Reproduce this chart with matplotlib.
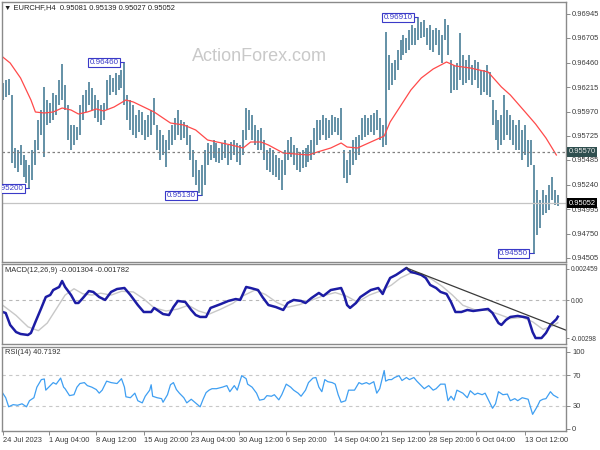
import numpy as np
import matplotlib
matplotlib.use("Agg")
import matplotlib.pyplot as plt
from matplotlib.transforms import blended_transform_factory

plt.rcParams['font.family'] = ['Liberation Sans', 'DejaVu Sans']

# ---------------- data ----------------
header_main = "\u25bc EURCHF,H4  0.95081 0.95139 0.95027 0.95052"
header_macd = "MACD(12,26,9) -0.001304 -0.001782"
header_rsi = "RSI(14) 40.7192"

bar_step = 2  # every sample = 2 H4 bars

high = [0.96255, 0.96285, 0.96295, 0.96135, 0.95605, 0.95585, 0.95635, 0.95535, 0.95485, 0.95435,
        0.95585, 0.95685, 0.95885, 0.95985, 0.96215, 0.96085, 0.96055, 0.96155, 0.96135, 0.96285,
        0.96445, 0.96235, 0.96035, 0.95835, 0.95835, 0.95815, 0.96035, 0.96135, 0.96185, 0.96265,
        0.96205, 0.96135, 0.96085, 0.96035, 0.96055, 0.96285, 0.96335, 0.96305, 0.96355, 0.96335,
        0.96385, 0.96460, 0.96135, 0.96085, 0.96035, 0.95935, 0.95985, 0.95965, 0.95885, 0.95935,
        0.95985, 0.96105, 0.95835, 0.95785, 0.95735, 0.95685, 0.95785, 0.95835, 0.95905, 0.95985,
        0.95885, 0.95865, 0.95835, 0.95735, 0.95585, 0.95485, 0.95385, 0.95435, 0.95585, 0.95655,
        0.95635, 0.95685, 0.95655, 0.95605, 0.95655, 0.95685, 0.95635, 0.95665, 0.95685, 0.95655,
        0.95635, 0.95785, 0.96005, 0.95985, 0.95935, 0.95835, 0.95785, 0.95805, 0.95685, 0.95585,
        0.95605, 0.95585, 0.95535, 0.95505, 0.95485, 0.95585, 0.95685, 0.95715, 0.95635, 0.95605,
        0.95565, 0.95585, 0.95605, 0.95635, 0.95685, 0.95805, 0.95885, 0.95885, 0.95935, 0.95905,
        0.95885, 0.95935, 0.95915, 0.95905, 0.96005, 0.95585, 0.95485, 0.95585, 0.95685, 0.95715,
        0.95735, 0.95905, 0.95935, 0.95905, 0.95935, 0.95955, 0.95985, 0.95905, 0.95835, 0.96765,
        0.96535, 0.96455, 0.96485, 0.96585, 0.96685, 0.96735, 0.96705, 0.96785, 0.96835, 0.96805,
        0.96910, 0.96865, 0.96885, 0.96805, 0.96835, 0.96785, 0.96805, 0.96785, 0.96735, 0.96900,
        0.96835, 0.96485, 0.96435, 0.96455, 0.96755, 0.96535, 0.96485, 0.96535, 0.96435, 0.96485,
        0.96465, 0.96385, 0.96385, 0.96435, 0.96365, 0.96085, 0.95985, 0.95885, 0.95935, 0.96135,
        0.95985, 0.95935, 0.95885, 0.95835, 0.95885, 0.95785, 0.95835, 0.95685, 0.95685, 0.95435,
        0.95185, 0.95085, 0.95185, 0.95135, 0.95235, 0.95315, 0.95185, 0.95139]

low = [0.96085, 0.96115, 0.96135, 0.95455, 0.95405, 0.95365, 0.95435, 0.95315, 0.95255, 0.95200,
       0.95285, 0.95435, 0.95585, 0.95735, 0.95515, 0.95835, 0.95855, 0.95885, 0.95935, 0.96035,
       0.96085, 0.95985, 0.95685, 0.95585, 0.95635, 0.95685, 0.95735, 0.95885, 0.95965, 0.96035,
       0.95985, 0.95905, 0.95865, 0.95835, 0.95885, 0.95985, 0.96135, 0.96165, 0.96135, 0.96185,
       0.96205, 0.96035, 0.95885, 0.95785, 0.95735, 0.95705, 0.95765, 0.95735, 0.95685, 0.95715,
       0.95735, 0.95835, 0.95585, 0.95485, 0.95535, 0.95415, 0.95585, 0.95635, 0.95685, 0.95735,
       0.95685, 0.95705, 0.95635, 0.95485, 0.95315, 0.95235, 0.95155, 0.95130, 0.95235, 0.95435,
       0.95485, 0.95505, 0.95465, 0.95455, 0.95485, 0.95505, 0.95435, 0.95485, 0.95535, 0.95465,
       0.95435, 0.95535, 0.95685, 0.95785, 0.95685, 0.95635, 0.95585, 0.95585, 0.95485, 0.95385,
       0.95365, 0.95335, 0.95315, 0.95285, 0.95185, 0.95335, 0.95485, 0.95515, 0.95435, 0.95385,
       0.95365, 0.95405, 0.95415, 0.95465, 0.95485, 0.95535, 0.95635, 0.95685, 0.95735, 0.95685,
       0.95705, 0.95735, 0.95765, 0.95735, 0.95685, 0.95305, 0.95255, 0.95335, 0.95435, 0.95485,
       0.95535, 0.95685, 0.95715, 0.95735, 0.95765, 0.95735, 0.95785, 0.95685, 0.95615, 0.95635,
       0.96185, 0.96235, 0.96285, 0.96385, 0.96485, 0.96535, 0.96555, 0.96585, 0.96635, 0.96635,
       0.96685, 0.96705, 0.96715, 0.96635, 0.96585, 0.96565, 0.96635, 0.96535, 0.96455, 0.96685,
       0.96535, 0.96155, 0.96185, 0.96185, 0.96285, 0.96235, 0.96255, 0.96285, 0.96235, 0.96285,
       0.96205, 0.96135, 0.96165, 0.96135, 0.96115, 0.95835, 0.95685, 0.95585, 0.95635, 0.95685,
       0.95735, 0.95685, 0.95635, 0.95585, 0.95585, 0.95485, 0.95535, 0.95415, 0.95435, 0.94550,
       0.94735, 0.94805, 0.94935, 0.94955, 0.94985, 0.95085, 0.95035, 0.95027]

ma_bar = [0, 5, 12, 19, 22, 28, 34, 40, 46, 51, 57, 63, 68, 75, 83, 88, 95, 102, 108, 113,
          122, 130, 138, 154, 162, 167, 174, 179, 189, 206, 212, 221, 228, 232, 239, 248, 257,
          261, 268, 275, 282, 290, 299, 305, 315, 327, 336, 342, 352, 359, 366, 373]
ma_val = [0.96515, 0.96455, 0.96305, 0.96085, 0.95965, 0.95955, 0.95965, 0.96005, 0.95985,
          0.95945, 0.95965, 0.95995, 0.95975, 0.96015, 0.96085, 0.96065, 0.96015, 0.95965,
          0.95905, 0.95855, 0.95835, 0.95785, 0.95685, 0.95635, 0.95605, 0.95665, 0.95665,
          0.95635, 0.95555, 0.95535, 0.95565, 0.95605, 0.95655, 0.95615, 0.95605, 0.95665,
          0.95725, 0.95865, 0.96025, 0.96185, 0.96305, 0.96395, 0.96465, 0.96425, 0.96405,
          0.96365, 0.96215, 0.96135, 0.95965, 0.95845, 0.95705, 0.95535]

swing_price = [0.95200, 0.96460, 0.95130, 0.96910, 0.94550]
swing_kind = ['low', 'high', 'low', 'high', 'low']
ref_level = 0.95570
last_close = 0.95052

price_ticks = [0.94505, 0.94750, 0.94995, 0.95240, 0.95485, 0.95725,
               0.95970, 0.96215, 0.96460, 0.96705, 0.96945]

macd_bar = [0, 2, 5, 9, 12, 17, 19, 22, 26, 29, 32, 34, 38, 40, 42, 46, 49, 51, 54, 58,
            61, 65, 69, 73, 77, 82, 86, 91, 95, 100, 102, 105, 108, 112, 115, 118, 123, 127,
            130, 133, 137, 140, 147, 152, 157, 160, 164, 167, 172, 175, 179, 184, 189, 192,
            196, 201, 204, 208, 213, 216, 221, 228, 230, 232, 234, 238, 241, 248, 253, 256,
            258, 261, 265, 268, 272, 275, 278, 282, 285, 288, 292, 295, 299, 302, 305, 309,
            313, 317, 322, 327, 330, 334, 336, 339, 342, 347, 351, 354, 357, 359, 363, 366,
            369, 373, 374]
macd_val = [-0.00093, -0.00101, -0.00195, -0.00251, -0.00266, -0.00274, -0.00258, -0.00172,
            -0.00061, 0.00025, 0.00041, 0.00080, 0.00104, 0.00151, 0.00104, 0.00041, -0.00022,
            -0.00022, 0.00017, 0.00072, 0.00065, 0.00025, 0.00002, 0.00065, 0.00088, 0.00096,
            0.00041, -0.00038, -0.00093, -0.00093, -0.00061, -0.00085, -0.00109, -0.00117,
            -0.00054, -0.00006, -0.00014, -0.00077, -0.00117, -0.00132, -0.00132, -0.00061,
            -0.00030, -0.00006, 0.00009, 0.00002, 0.00104, 0.00096, 0.00080, 0.00025, -0.00038,
            -0.00054, -0.00077, -0.00022, 0.00002, -0.00006, -0.00022, 0.00017, 0.00057,
            0.00033, 0.00080, 0.00096, 0.00041, -0.00038, -0.00061, -0.00022, 0.00025, 0.00080,
            0.00096, 0.00049, 0.00104, 0.00175, 0.00199, 0.00222, 0.00254, 0.00222, 0.00214,
            0.00199, 0.00175, 0.00120, 0.00096, 0.00065, 0.00049, -0.00014, -0.00093, -0.00093,
            -0.00077, -0.00085, -0.00077, -0.00069, -0.00101, -0.00180, -0.00195, -0.00156,
            -0.00132, -0.00124, -0.00132, -0.00140, -0.00251, -0.00298, -0.00298, -0.00258,
            -0.00195, -0.00150, -0.00130]

signal_bar = [0, 9, 17, 24, 30, 36, 42, 48, 54, 60, 66, 73, 80, 88, 95, 102, 110, 118, 125,
              132, 139, 147, 155, 162, 170, 177, 185, 192, 200, 208, 216, 224, 232, 239, 247,
              255, 262, 268, 275, 282, 289, 296, 303, 310, 318, 326, 334, 342, 350, 357, 364,
              370, 374]
signal_val = [-0.00040, -0.00120, -0.00210, -0.00240, -0.00180, -0.00070, 0.00040, 0.00090,
              0.00050, 0.00040, 0.00055, 0.00040, 0.00070, 0.00065, 0.00010, -0.00060, -0.00085,
              -0.00070, -0.00040, -0.00085, -0.00110, -0.00070, -0.00025, 0.00035, 0.00080,
              0.00045, -0.00020, -0.00055, -0.00035, 0.00000, 0.00035, 0.00060, 0.00030,
              -0.00015, 0.00040, 0.00075, 0.00120, 0.00175, 0.00215, 0.00210, 0.00165, 0.00110,
              0.00040, -0.00040, -0.00075, -0.00080, -0.00110, -0.00145, -0.00135, -0.00170,
              -0.00230, -0.00205, -0.00178]

trend_bar = [272, 381]
trend_val = [0.00254, -0.00243]

macd_ticks = [-0.00298, 0.0, 0.002459]
macd_tick_labels = ['-0.00298', '0.00', '0.002459']

rsi_bar = [0, 2, 4, 7, 10, 13, 16, 18, 21, 23, 26, 28, 29, 31, 34, 36, 39, 41, 42, 45, 48, 50,
           52, 55, 57, 60, 63, 65, 67, 70, 73, 77, 80, 82, 83, 86, 89, 91, 94, 96, 99, 100, 101,
           104, 107, 108, 111, 113, 115, 117, 119, 122, 124, 127, 133, 135, 137, 139, 141, 144,
           148, 151, 153, 156, 158, 161, 164, 165, 168, 171, 173, 176, 178, 181, 183, 186, 188,
           191, 194, 196, 199, 201, 204, 206, 209, 211, 213, 215, 217, 219, 222, 224, 226, 228,
           231, 233, 237, 240, 242, 245, 247, 250, 252, 254, 257, 258, 260, 262, 264, 267, 269,
           272, 274, 277, 279, 282, 284, 287, 290, 292, 295, 298, 300, 302, 304, 306, 308, 310,
           313, 315, 318, 320, 323, 325, 328, 330, 332, 334, 337, 340, 342, 345, 347, 350, 354,
           357, 360, 362, 364, 366, 369, 371, 374]
rsi_val = [46.5, 40.6, 28.8, 31.6, 30.8, 32.7, 28.8, 36.7, 40.6, 54.3, 64.1, 64.9, 50.4, 54.3,
           60.2, 58.2, 66.1, 54.3, 52.3, 43.3, 44.5, 54.3, 59.0, 60.2, 56.3, 54.3, 51.2, 46.5,
           50.4, 62.1, 60.2, 59.0, 65.3, 54.3, 41.8, 40.6, 46.5, 36.7, 33.9, 42.5, 50.4, 57.4,
           42.5, 40.6, 39.4, 34.7, 44.5, 57.4, 60.2, 51.2, 46.5, 40.6, 33.9, 38.6, 28.8, 38.6,
           47.2, 50.4, 52.3, 52.3, 54.3, 56.3, 48.4, 56.3, 50.4, 69.2, 65.3, 58.2, 54.3, 46.5,
           37.4, 38.6, 43.3, 42.5, 44.5, 37.8, 44.5, 58.2, 54.3, 50.4, 46.5, 42.5, 50.4, 60.2,
           66.1, 66.8, 54.3, 48.4, 64.1, 61.4, 60.2, 58.2, 44.5, 34.7, 36.7, 50.4, 50.4, 60.2,
           58.2, 60.2, 58.2, 61.4, 46.5, 52.3, 75.9, 62.1, 64.1, 64.1, 66.8, 69.2, 62.9, 66.8,
           64.1, 66.8, 62.1, 56.3, 52.3, 56.3, 50.4, 52.3, 58.2, 58.2, 36.7, 42.5, 37.4, 50.4,
           48.4, 46.5, 40.6, 49.6, 44.5, 46.5, 44.5, 46.5, 34.7, 26.9, 32.7, 48.4, 44.5, 45.3,
           36.7, 39.4, 36.7, 40.6, 38.6, 19.0, 28.8, 36.7, 38.6, 39.4, 48.4, 44.0, 40.7]

rsi_levels = [70, 30]
rsi_ticks = [0, 30, 70, 100]

date_bar = [0, 31, 63, 95, 127, 159, 191, 223, 255, 287, 319, 352]
date_labels = ['24 Jul 2023', '1 Aug 04:00', '8 Aug 12:00', '15 Aug 20:00', '23 Aug 04:00',
               '30 Aug 12:00', '6 Sep 20:00', '14 Sep 04:00', '21 Sep 12:00', '28 Sep 20:00',
               '6 Oct 04:00', '13 Oct 12:00']

assert len(high) == len(low)
assert len(macd_bar) == len(macd_val)
assert len(signal_bar) == len(signal_val)
assert len(rsi_bar) == len(rsi_val)
assert len(ma_bar) == len(ma_val)

# ---------------- figure ----------------
W, H = 600, 450
fig = plt.figure(figsize=(W / 100, H / 100), dpi=100)
fig.patch.set_facecolor('white')


def frac(x0, y0, x1, y1):
    return [x0 / W, 1 - y1 / H, (x1 - x0) / W, (y1 - y0) / H]


ax1 = fig.add_axes(frac(2, 2, 566, 262))
ax2 = fig.add_axes(frac(2, 264, 566, 344))
ax3 = fig.add_axes(frac(2, 347, 566, 431))

spine_col = '#8a8a8a'
tick_col = '#3a3a3a'
small = 5.4
for ax in (ax1, ax2, ax3):
    ax.set_xlim(-0.5, 379.5)
    for s in ax.spines.values():
        s.set_color(spine_col)
        s.set_linewidth(1.0)
    ax.yaxis.tick_right()
    ax.tick_params(axis='y', direction='out', length=3, width=0.7, pad=1.5,
                   labelsize=small, colors=tick_col)
    ax.tick_params(axis='y', color=spine_col)
    ax.set_facecolor('white')

# ---- main price panel ----
x = np.arange(len(high)) * bar_step
high_a = np.array(high)
low_a = np.array(low)
ax1.vlines(x, low_a, high_a, color='#6390a6', lw=1.4)
ax1.plot(ma_bar, ma_val, color='#ff4a4a', lw=0.9)
ax1.axhline(ref_level, color='#808080', lw=0.9, ls=(0, (2, 2)))
ax1.axhline(last_close, color='#c4c4c4', lw=0.9)
ax1.set_ylim(0.94465, 0.97065)
ax1.set_yticks(price_ticks)
ax1.set_yticklabels([f'{p:.5f}' for p in price_ticks])
ax1.set_xticks([])

ax1.text(0.456, 0.79, 'ActionForex.com', transform=ax1.transAxes, fontsize=13,
         color='#c9c9c9', ha='center', va='center')

lab_col = '#3a3ac8'
for p, kind in zip(swing_price, swing_kind):
    arr = high_a if kind == 'high' else low_a
    i = int(np.argmin(np.abs(arr - p)))
    ax1.annotate(f'{p:.5f}', xy=(x[i], p), xytext=(-6, 0), textcoords='offset pixels',
                 ha='right', va='center', fontsize=5.8, color=lab_col,
                 bbox=dict(boxstyle='square,pad=0.15', fc='white', ec=lab_col, lw=0.8),
                 arrowprops=dict(arrowstyle='-', color=lab_col, lw=0.8,
                                 shrinkA=0, shrinkB=0),
                 annotation_clip=False, clip_on=True)

trans = blended_transform_factory(ax1.transAxes, ax1.transData)
ax1.text(1.004, ref_level, f'{ref_level:.5f}', transform=trans, ha='left', va='center',
         fontsize=small, color='#e8e8e8',
         bbox=dict(boxstyle='square,pad=0.2', fc='#2f4f4f', ec='none'), clip_on=False)
ax1.text(1.004, last_close, f'{last_close:.5f}', transform=trans, ha='left', va='center',
         fontsize=small, color='white',
         bbox=dict(boxstyle='square,pad=0.2', fc='black', ec='none'), clip_on=False)

# ---- MACD panel ----
ax2.axhline(0, color='#b8b8b8', lw=0.8, ls=(0, (3, 3)))
ax2.plot(signal_bar, signal_val, color='#c8c8c8', lw=1.0)
ax2.plot(macd_bar, macd_val, color='#1c1ca4', lw=1.8)
ax2.plot(trend_bar, trend_val, color='#3a3a3a', lw=0.9)
ax2.set_ylim(-0.00345, 0.00285)
ax2.set_yticks(macd_ticks)
ax2.set_yticklabels(macd_tick_labels)
ax2.tick_params(axis='y', labelsize=4.8, pad=1.0, length=2.5)
ax2.set_xticks([])

# ---- RSI panel ----
for lv in rsi_levels:
    ax3.axhline(lv, color='#c8c8c8', lw=0.8, ls=(0, (3, 3)))
ax3.plot(rsi_bar, rsi_val, color='#3f9ff2', lw=0.9)
ax3.set_ylim(-2.6, 106.4)
ax3.set_yticks(rsi_ticks)
ax3.set_yticklabels([str(t) for t in rsi_ticks])
ax3.set_xticks(date_bar)
ax3.set_xticklabels(date_labels, ha='left')
ax3.tick_params(axis='x', direction='out', length=3, width=0.7, pad=1.5, labelsize=small,
                colors=tick_col)
ax3.tick_params(axis='x', color=spine_col)

# ---- headers ----
fig.text(4 / W, 1 - 8 / H, header_main, fontsize=small, color='#202020', va='center', ha='left')
fig.text(5 / W, 1 - 270 / H, header_macd, fontsize=small, color='#303030', va='center', ha='left')
fig.text(5 / W, 1 - 353 / H, header_rsi, fontsize=small, color='#303030', va='center', ha='left')

fig.savefig('out.png', dpi=100, facecolor='white')
